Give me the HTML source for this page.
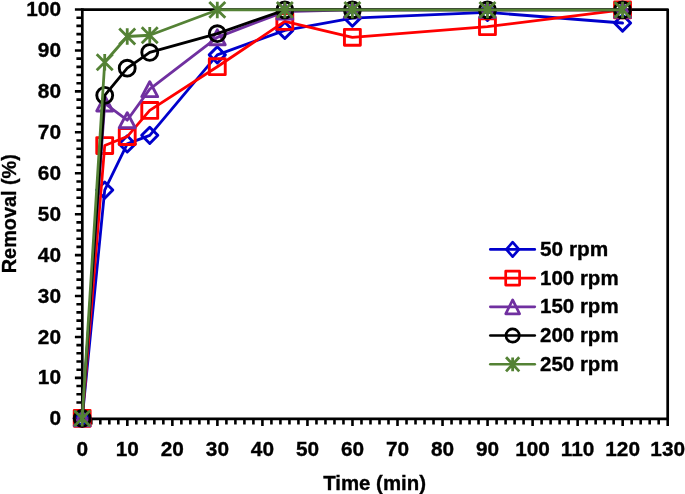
<!DOCTYPE html><html><head><meta charset="utf-8"><style>html,body{margin:0;padding:0;background:#fff;width:685px;height:494px;overflow:hidden}svg{display:block;will-change:transform}text{font-family:"Liberation Sans",sans-serif;font-weight:bold;font-size:20.8px;fill:#000;stroke:#000;stroke-width:0.35px}</style></head><body>
<svg width="685" height="494" viewBox="0 0 685 494">
<path d="M82.30 9.60H667.69V418.80" fill="none" stroke="#000" stroke-width="2.7" stroke-linejoin="round"/>
<path d="M74.9 418.80H82.30M76.4 410.62H82.30M76.4 402.43H82.30M76.4 394.25H82.30M76.4 386.06H82.30M74.9 377.88H82.30M76.4 369.69H82.30M76.4 361.50H82.30M76.4 353.32H82.30M76.4 345.13H82.30M74.9 336.95H82.30M76.4 328.76H82.30M76.4 320.58H82.30M76.4 312.39H82.30M76.4 304.21H82.30M74.9 296.02H82.30M76.4 287.84H82.30M76.4 279.65H82.30M76.4 271.47H82.30M76.4 263.28H82.30M74.9 255.10H82.30M76.4 246.91H82.30M76.4 238.73H82.30M76.4 230.54H82.30M76.4 222.36H82.30M74.9 214.18H82.30M76.4 205.99H82.30M76.4 197.81H82.30M76.4 189.62H82.30M76.4 181.44H82.30M74.9 173.25H82.30M76.4 165.06H82.30M76.4 156.88H82.30M76.4 148.69H82.30M76.4 140.51H82.30M74.9 132.32H82.30M76.4 124.14H82.30M76.4 115.95H82.30M76.4 107.77H82.30M76.4 99.58H82.30M74.9 91.40H82.30M76.4 83.21H82.30M76.4 75.03H82.30M76.4 66.84H82.30M76.4 58.66H82.30M74.9 50.47H82.30M76.4 42.29H82.30M76.4 34.10H82.30M76.4 25.92H82.30M76.4 17.74H82.30M74.9 9.55H82.30M82.30 418.80V425.9M91.31 418.80V424.4M100.31 418.80V424.4M109.32 418.80V424.4M118.32 418.80V424.4M127.33 418.80V425.9M136.34 418.80V424.4M145.34 418.80V424.4M154.35 418.80V424.4M163.35 418.80V424.4M172.36 418.80V425.9M181.37 418.80V424.4M190.37 418.80V424.4M199.38 418.80V424.4M208.38 418.80V424.4M217.39 418.80V425.9M226.40 418.80V424.4M235.40 418.80V424.4M244.41 418.80V424.4M253.41 418.80V424.4M262.42 418.80V425.9M271.43 418.80V424.4M280.43 418.80V424.4M289.44 418.80V424.4M298.44 418.80V424.4M307.45 418.80V425.9M316.46 418.80V424.4M325.46 418.80V424.4M334.47 418.80V424.4M343.47 418.80V424.4M352.48 418.80V425.9M361.49 418.80V424.4M370.49 418.80V424.4M379.50 418.80V424.4M388.50 418.80V424.4M397.51 418.80V425.9M406.52 418.80V424.4M415.52 418.80V424.4M424.53 418.80V424.4M433.53 418.80V424.4M442.54 418.80V425.9M451.55 418.80V424.4M460.55 418.80V424.4M469.56 418.80V424.4M478.56 418.80V424.4M487.57 418.80V425.9M496.58 418.80V424.4M505.58 418.80V424.4M514.59 418.80V424.4M523.59 418.80V424.4M532.60 418.80V425.9M541.61 418.80V424.4M550.61 418.80V424.4M559.62 418.80V424.4M568.62 418.80V424.4M577.63 418.80V425.9M586.64 418.80V424.4M595.64 418.80V424.4M604.65 418.80V424.4M613.65 418.80V424.4M622.66 418.80V425.9M631.67 418.80V424.4M640.67 418.80V424.4M649.68 418.80V424.4M658.68 418.80V424.4M667.69 418.80V425.9" stroke="#000" stroke-width="2.6" fill="none"/>
<path d="M82.30 8.25V418.80H669.04" fill="none" stroke="#000" stroke-width="2.7"/>
<text x="61" y="425.40" text-anchor="end">0</text>
<text x="61" y="384.48" text-anchor="end">10</text>
<text x="61" y="343.55" text-anchor="end">20</text>
<text x="61" y="302.62" text-anchor="end">30</text>
<text x="61" y="261.70" text-anchor="end">40</text>
<text x="61" y="220.78" text-anchor="end">50</text>
<text x="61" y="179.85" text-anchor="end">60</text>
<text x="61" y="138.92" text-anchor="end">70</text>
<text x="61" y="98.00" text-anchor="end">80</text>
<text x="61" y="57.07" text-anchor="end">90</text>
<text x="61" y="16.15" text-anchor="end">100</text>
<text x="82.30" y="455.6" text-anchor="middle">0</text>
<text x="127.33" y="455.6" text-anchor="middle">10</text>
<text x="172.36" y="455.6" text-anchor="middle">20</text>
<text x="217.39" y="455.6" text-anchor="middle">30</text>
<text x="262.42" y="455.6" text-anchor="middle">40</text>
<text x="307.45" y="455.6" text-anchor="middle">50</text>
<text x="352.48" y="455.6" text-anchor="middle">60</text>
<text x="397.51" y="455.6" text-anchor="middle">70</text>
<text x="442.54" y="455.6" text-anchor="middle">80</text>
<text x="487.57" y="455.6" text-anchor="middle">90</text>
<text x="532.60" y="455.6" text-anchor="middle">100</text>
<text x="577.63" y="455.6" text-anchor="middle">110</text>
<text x="622.66" y="455.6" text-anchor="middle">120</text>
<text x="667.69" y="455.6" text-anchor="middle">130</text>
<text x="374.6" y="489.5" text-anchor="middle" textLength="102.8" lengthAdjust="spacingAndGlyphs">Time (min)</text>
<text transform="translate(15.9 213.7) rotate(-90)" text-anchor="middle" textLength="119" lengthAdjust="spacingAndGlyphs">Removal (%)</text>
<polyline points="82.20,418.40 104.72,190.08 127.23,143.92 149.75,135.34 217.29,54.88 284.83,30.37 352.38,18.12 487.47,12.40 622.56,23.02" fill="none" stroke="#0000CC" stroke-width="2.8" stroke-linejoin="round" stroke-linecap="round"/>
<path d="M82.20 410.30L90.30 418.40L82.20 426.50L74.10 418.40Z" fill="none" stroke="#0000CC" stroke-width="2.9" stroke-linejoin="round"/>
<path d="M104.72 181.98L112.81 190.08L104.72 198.18L96.62 190.08Z" fill="none" stroke="#0000CC" stroke-width="2.9" stroke-linejoin="round"/>
<path d="M127.23 135.82L135.33 143.92L127.23 152.02L119.13 143.92Z" fill="none" stroke="#0000CC" stroke-width="2.9" stroke-linejoin="round"/>
<path d="M149.75 127.24L157.84 135.34L149.75 143.44L141.65 135.34Z" fill="none" stroke="#0000CC" stroke-width="2.9" stroke-linejoin="round"/>
<path d="M217.29 46.78L225.39 54.88L217.29 62.98L209.19 54.88Z" fill="none" stroke="#0000CC" stroke-width="2.9" stroke-linejoin="round"/>
<path d="M284.83 22.27L292.94 30.37L284.83 38.47L276.73 30.37Z" fill="none" stroke="#0000CC" stroke-width="2.9" stroke-linejoin="round"/>
<path d="M352.38 10.02L360.48 18.12L352.38 26.22L344.28 18.12Z" fill="none" stroke="#0000CC" stroke-width="2.9" stroke-linejoin="round"/>
<path d="M487.47 4.30L495.57 12.40L487.47 20.50L479.37 12.40Z" fill="none" stroke="#0000CC" stroke-width="2.9" stroke-linejoin="round"/>
<path d="M622.56 14.92L630.66 23.02L622.56 31.12L614.46 23.02Z" fill="none" stroke="#0000CC" stroke-width="2.9" stroke-linejoin="round"/>
<polyline points="82.20,418.40 104.72,145.56 127.23,136.57 149.75,110.43 217.29,66.72 284.83,21.39 352.38,37.32 487.47,26.70 622.56,9.95" fill="none" stroke="#FF0000" stroke-width="2.8" stroke-linejoin="round" stroke-linecap="round"/>
<rect x="74.25" y="410.45" width="15.90" height="15.90" fill="none" stroke="#FF0000" stroke-width="2.9" stroke-linejoin="round"/>
<rect x="96.77" y="137.61" width="15.90" height="15.90" fill="none" stroke="#FF0000" stroke-width="2.9" stroke-linejoin="round"/>
<rect x="119.28" y="128.62" width="15.90" height="15.90" fill="none" stroke="#FF0000" stroke-width="2.9" stroke-linejoin="round"/>
<rect x="141.80" y="102.48" width="15.90" height="15.90" fill="none" stroke="#FF0000" stroke-width="2.9" stroke-linejoin="round"/>
<rect x="209.34" y="58.77" width="15.90" height="15.90" fill="none" stroke="#FF0000" stroke-width="2.9" stroke-linejoin="round"/>
<rect x="276.88" y="13.44" width="15.90" height="15.90" fill="none" stroke="#FF0000" stroke-width="2.9" stroke-linejoin="round"/>
<rect x="344.43" y="29.37" width="15.90" height="15.90" fill="none" stroke="#FF0000" stroke-width="2.9" stroke-linejoin="round"/>
<rect x="479.52" y="18.75" width="15.90" height="15.90" fill="none" stroke="#FF0000" stroke-width="2.9" stroke-linejoin="round"/>
<rect x="614.61" y="2.00" width="15.90" height="15.90" fill="none" stroke="#FF0000" stroke-width="2.9" stroke-linejoin="round"/>
<polyline points="82.20,418.40 104.72,103.49 127.23,120.23 149.75,89.19 217.29,37.32 284.83,11.58 352.38,9.95 487.47,9.95 622.56,9.95" fill="none" stroke="#7030A0" stroke-width="2.8" stroke-linejoin="round" stroke-linecap="round"/>
<path d="M82.20 410.95L90.15 425.85L74.25 425.85Z" fill="none" stroke="#7030A0" stroke-width="2.9" stroke-linejoin="round"/>
<path d="M104.72 96.04L112.67 110.94L96.77 110.94Z" fill="none" stroke="#7030A0" stroke-width="2.9" stroke-linejoin="round"/>
<path d="M127.23 112.78L135.18 127.68L119.28 127.68Z" fill="none" stroke="#7030A0" stroke-width="2.9" stroke-linejoin="round"/>
<path d="M149.75 81.74L157.69 96.64L141.80 96.64Z" fill="none" stroke="#7030A0" stroke-width="2.9" stroke-linejoin="round"/>
<path d="M217.29 29.87L225.24 44.77L209.34 44.77Z" fill="none" stroke="#7030A0" stroke-width="2.9" stroke-linejoin="round"/>
<path d="M284.83 4.13L292.78 19.03L276.88 19.03Z" fill="none" stroke="#7030A0" stroke-width="2.9" stroke-linejoin="round"/>
<path d="M352.38 2.50L360.33 17.40L344.43 17.40Z" fill="none" stroke="#7030A0" stroke-width="2.9" stroke-linejoin="round"/>
<path d="M487.47 2.50L495.42 17.40L479.52 17.40Z" fill="none" stroke="#7030A0" stroke-width="2.9" stroke-linejoin="round"/>
<path d="M622.56 2.50L630.51 17.40L614.61 17.40Z" fill="none" stroke="#7030A0" stroke-width="2.9" stroke-linejoin="round"/>
<polyline points="82.20,418.40 104.72,95.32 127.23,68.15 149.75,52.43 217.29,33.64 284.83,9.95 352.38,9.95 487.47,9.95 622.56,9.95" fill="none" stroke="#000000" stroke-width="2.8" stroke-linejoin="round" stroke-linecap="round"/>
<circle cx="82.20" cy="418.40" r="7.95" fill="none" stroke="#000000" stroke-width="2.9"/>
<circle cx="104.72" cy="95.32" r="7.95" fill="none" stroke="#000000" stroke-width="2.9"/>
<circle cx="127.23" cy="68.15" r="7.95" fill="none" stroke="#000000" stroke-width="2.9"/>
<circle cx="149.75" cy="52.43" r="7.95" fill="none" stroke="#000000" stroke-width="2.9"/>
<circle cx="217.29" cy="33.64" r="7.95" fill="none" stroke="#000000" stroke-width="2.9"/>
<circle cx="284.83" cy="9.95" r="7.95" fill="none" stroke="#000000" stroke-width="2.9"/>
<circle cx="352.38" cy="9.95" r="7.95" fill="none" stroke="#000000" stroke-width="2.9"/>
<circle cx="487.47" cy="9.95" r="7.95" fill="none" stroke="#000000" stroke-width="2.9"/>
<circle cx="622.56" cy="9.95" r="7.95" fill="none" stroke="#000000" stroke-width="2.9"/>
<polyline points="82.20,418.40 104.72,62.23 127.23,36.50 149.75,35.27 217.29,9.95 284.83,9.95 352.38,9.95 487.47,9.95 622.56,9.95" fill="none" stroke="#548235" stroke-width="2.8" stroke-linejoin="round" stroke-linecap="round"/>
<path d="M74.20 410.50L90.20 426.30M90.20 410.50L74.20 426.30M82.20 410.20L82.20 426.60" fill="none" stroke="#548235" stroke-width="2.8"/>
<path d="M96.72 54.33L112.72 70.13M112.72 54.33L96.72 70.13M104.72 54.03L104.72 70.43" fill="none" stroke="#548235" stroke-width="2.8"/>
<path d="M119.23 28.60L135.23 44.40M135.23 28.60L119.23 44.40M127.23 28.30L127.23 44.70" fill="none" stroke="#548235" stroke-width="2.8"/>
<path d="M141.75 27.37L157.75 43.17M157.75 27.37L141.75 43.17M149.75 27.07L149.75 43.47" fill="none" stroke="#548235" stroke-width="2.8"/>
<path d="M209.29 2.05L225.29 17.85M225.29 2.05L209.29 17.85M217.29 1.75L217.29 18.15" fill="none" stroke="#548235" stroke-width="2.8"/>
<path d="M276.83 2.05L292.83 17.85M292.83 2.05L276.83 17.85M284.83 1.75L284.83 18.15" fill="none" stroke="#548235" stroke-width="2.8"/>
<path d="M344.38 2.05L360.38 17.85M360.38 2.05L344.38 17.85M352.38 1.75L352.38 18.15" fill="none" stroke="#548235" stroke-width="2.8"/>
<path d="M479.47 2.05L495.47 17.85M495.47 2.05L479.47 17.85M487.47 1.75L487.47 18.15" fill="none" stroke="#548235" stroke-width="2.8"/>
<path d="M614.56 2.05L630.56 17.85M630.56 2.05L614.56 17.85M622.56 1.75L622.56 18.15" fill="none" stroke="#548235" stroke-width="2.8"/>
<path d="M490.3 249.40H534.8" stroke="#0000CC" stroke-width="2.6" stroke-linecap="round"/>
<path d="M512.65 242.15L518.95 249.40L512.65 256.65L506.35 249.40Z" fill="none" stroke="#0000CC" stroke-width="2.7" stroke-linejoin="round"/>
<text x="540" y="256.00">50 rpm</text>
<path d="M490.3 278.12H534.8" stroke="#FF0000" stroke-width="2.6" stroke-linecap="round"/>
<rect x="505.70" y="271.17" width="13.90" height="13.90" fill="none" stroke="#FF0000" stroke-width="2.7" stroke-linejoin="round"/>
<text x="540" y="284.72" textLength="78.6" lengthAdjust="spacingAndGlyphs">100 rpm</text>
<path d="M490.3 306.84H534.8" stroke="#7030A0" stroke-width="2.6" stroke-linecap="round"/>
<path d="M512.65 299.84L519.60 313.84L505.70 313.84Z" fill="none" stroke="#7030A0" stroke-width="2.7" stroke-linejoin="round"/>
<text x="540" y="313.44" textLength="78.6" lengthAdjust="spacingAndGlyphs">150 rpm</text>
<path d="M490.3 335.56H534.8" stroke="#000000" stroke-width="2.6" stroke-linecap="round"/>
<circle cx="512.65" cy="335.56" r="6.65" fill="none" stroke="#000000" stroke-width="2.7"/>
<text x="540" y="342.16" textLength="78.6" lengthAdjust="spacingAndGlyphs">200 rpm</text>
<path d="M490.3 364.28H534.8" stroke="#548235" stroke-width="2.6" stroke-linecap="round"/>
<path d="M506.05 357.18L519.25 371.38M519.25 357.18L506.05 371.38M512.65 357.43L512.65 371.13" fill="none" stroke="#548235" stroke-width="2.8"/>
<text x="540" y="370.88" textLength="78.6" lengthAdjust="spacingAndGlyphs">250 rpm</text>
</svg></body></html>
